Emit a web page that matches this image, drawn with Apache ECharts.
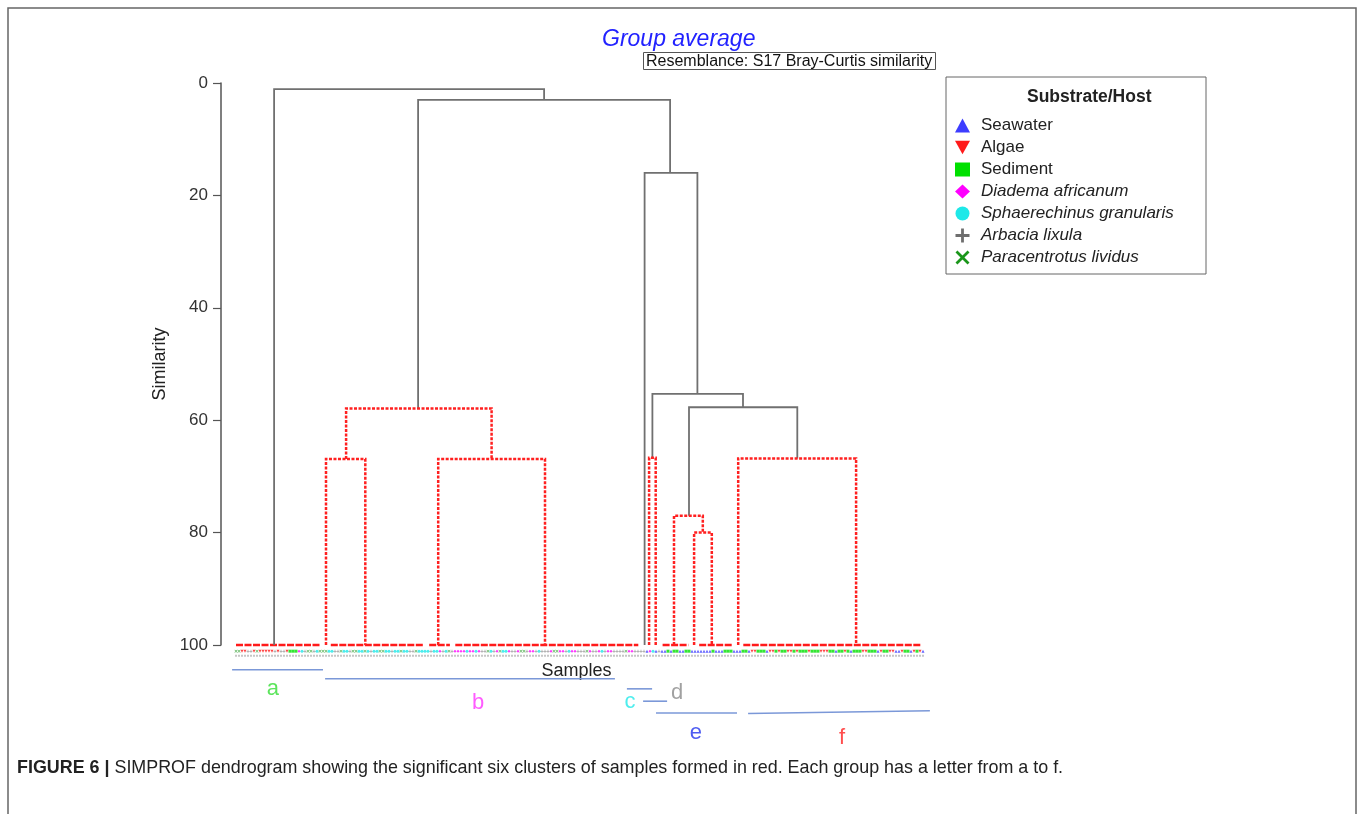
<!DOCTYPE html>
<html>
<head>
<meta charset="utf-8">
<script src="https://cdn.jsdelivr.net/npm/echarts@6/dist/echarts.min.js"></script>
<style>
  html, body { margin: 0; padding: 0; background: #fff; }
  #main { width: 1360px; height: 814px; }
</style>
</head>
<body>
<div id="main"></div>
<script>
var chart = echarts.init(document.getElementById('main'));

// y ticks (similarity %)
var yTicks = [0, 20, 40, 60, 80, 100];

// dendrogram links: [xLeft, xRight, mergeSimilarity, leftChildSim, rightChildSim]
// x in sample positions (0 = first sample)
var greyLinks = [
  [12.7, 102.7, 1.1, 100, 3.0],
  [60.7, 144.7, 3.0, 57.9, 16.0],
  [136.2, 153.8, 16.0, 100, 55.3],
  [138.8, 169.0, 55.3, 66.7, 57.7],
  [151.0, 187.1, 57.7, 77.0, 66.8]
];
var redLinks = [
  [30.0, 43.1, 66.9, 100, 100],
  [67.4, 103.0, 66.9, 100, 100],
  [36.7, 85.2, 57.9, 66.9, 66.9],
  [137.7, 139.9, 66.7, 100, 100],
  [146.0, 155.6, 77.0, 100, 80.0],
  [152.7, 158.6, 80.0, 100, 100],
  [167.4, 206.7, 66.8, 100, 100]
];
// samples joined at 100% similarity: [fromSample, toSample]
var baseSegments = [
  [0, 28], [31.6, 62.4], [64.4, 71.3], [73.1, 134.1],
  [142.2, 150.8], [154.4, 165.7], [169.1, 228.6]
];

// sample order codes: S seawater, A algae, D sediment, M diadema, C sphaerechinus, P arbacia, X paracentrotus
var sampleTypes =
  'XXAAPPAXAAAAAPAPPADDDMCPXXPCX' +
  'XXCCPPXCCPXXCCXCPCCXXCCPCCXCCPPXCC' +
  'CCPCCMPCXP' +
  'MMMMCMMCMPPXCPMXCCMPPMXXPMMPCPPPMXXMMPCMMPPPXMPPMCPMMPPPPXMMPPP' +
  'PSMCSP' +
  'SSDSDDSSDDSSSSSSSDSSSDDDSSSDDS' +
  'AADDDSAADADDAADADDDADDDAAADDSDDADSDDDAADDDSADDAASSADDSADAS';

var groupCodes = ['S', 'A', 'D', 'M', 'C', 'P', 'X'];
var groupNames = ['Seawater', 'Algae', 'Sediment', 'Diadema africanum',
  'Sphaerechinus granularis', 'Arbacia lixula', 'Paracentrotus lividus'];
var groupColors = ['#3d3dff', '#ff1a1a', '#00e000', '#ff00ff', '#1ee8e8', '#6e6e6e', '#1a961a'];
var groupSymbols = ['triangle', 'path://M0,0H10L5,9Z', 'rect', 'diamond', 'circle',
  'path://M4,0H6V4H10V6H6V10H4V6H0V4H4Z',
  'path://M1.4,0L5,3.6L8.6,0L10,1.4L6.4,5L10,8.6L8.6,10L5,6.4L1.4,10L0,8.6L3.6,5L0,1.4Z'];
var italicNames = ['Diadema africanum', 'Sphaerechinus granularis', 'Arbacia lixula', 'Paracentrotus lividus'];

// cluster brackets under the samples: [x1, x2, y1, y2]
var clusterLetters = ['a', 'b', 'c', 'd', 'e', 'f'];
var clusterLines = [
  [-1.3, 29.0, 104.4, 104.4],
  [29.7, 126.3, 106.0, 106.0],
  [130.3, 138.7, 107.8, 107.8],
  [135.7, 143.7, 110.0, 110.0],
  [140.0, 167.0, 112.1, 112.1],
  [170.7, 231.3, 112.2, 111.7]
];
var clusterLabelPos = [[12.3, 107.9], [80.7, 110.3], [131.3, 110.2], [147.0, 108.5], [153.3, 115.6], [202.0, 116.6]];
var clusterColors = ['#33dd33', '#ff33ff', '#22e8e8', '#8a8a8a', '#2233ee', '#ff2222'];

var MARK_ROW = 101.1;
var LABEL_ROW = 101.9;
var FONT = 'Liberation Sans, Arial, sans-serif';

function linkRenderer(color, dash, width) {
  return function (params, api) {
    var xl = api.value(0), xr = api.value(1), h = api.value(2), hl = api.value(3), hr = api.value(4);
    var pts = [api.coord([xl, hl]), api.coord([xl, h]), api.coord([xr, h]), api.coord([xr, hr])];
    return {
      type: 'polyline',
      shape: { points: pts },
      style: { stroke: color, lineWidth: width, fill: null, lineDash: dash }
    };
  };
}

var series = [];

series.push({
  type: 'custom', name: 'base', silent: true, clip: false,
  dimensions: ['x1', 'x2'], encode: { x: [0, 1] },
  renderItem: function (params, api) {
    var a = api.coord([api.value(0), 100]), b = api.coord([api.value(1), 100]);
    return { type: 'line', shape: { x1: a[0], y1: a[1], x2: b[0], y2: b[1] },
      style: { stroke: '#ff1a1a', lineWidth: 2.5, lineDash: [7, 1.5] } };
  },
  data: baseSegments
});
series.push({
  type: 'custom', name: 'grey', silent: true, clip: false,
  dimensions: ['xl', 'xr', 'h', 'hl', 'hr'], encode: { x: [0, 1], y: [2, 3, 4] },
  renderItem: linkRenderer('#707070', null, 1.8),
  data: greyLinks
});
series.push({
  type: 'custom', name: 'red', silent: true, clip: false,
  dimensions: ['xl', 'xr', 'h', 'hl', 'hr'], encode: { x: [0, 1], y: [2, 3, 4] },
  renderItem: linkRenderer('#ff2020', [3, 1.5], 2.5),
  data: redLinks
});

// grey sample label row
var labelRow = [];
for (var i = 0; i < sampleTypes.length; i++) labelRow.push([i, LABEL_ROW]);
series.push({
  type: 'scatter', name: 'labels', silent: true, clip: false,
  symbol: 'rect', symbolSize: [2, 2],
  itemStyle: { color: '#b8b8b8' },
  data: labelRow
});

groupCodes.forEach(function (code, g) {
  var pts = [];
  for (var i = 0; i < sampleTypes.length; i++) {
    if (sampleTypes.charAt(i) === code) pts.push([i, MARK_ROW]);
  }
  series.push({
    type: 'scatter', name: groupNames[g], clip: false, silent: true,
    symbol: groupSymbols[g], symbolSize: 3,
    itemStyle: { color: groupColors[g], opacity: 0.8 },
    data: pts
  });
});

series.push({
  type: 'custom', name: 'clusters', silent: true, clip: false,
  renderItem: function (params, api) {
    var a = api.coord([api.value(0), api.value(2)]), b = api.coord([api.value(1), api.value(3)]);
    return { type: 'line', shape: { x1: a[0], y1: a[1], x2: b[0], y2: b[1] },
      style: { stroke: '#7b98d8', lineWidth: 1.6 } };
  },
  data: clusterLines
});
series.push({
  type: 'scatter', name: 'letters', silent: true, clip: false,
  symbolSize: 0,
  label: {
    show: true, position: 'inside', fontSize: 22, fontFamily: FONT,
    formatter: function (p) { return clusterLetters[p.dataIndex]; }
  },
  data: clusterLabelPos.map(function (p, k) {
    return { value: p, label: { color: clusterColors[k] } };
  })
});

var option = {
  animation: false,
  textStyle: { fontFamily: FONT },
  title: [
    { text: 'Group average', left: 597, top: 23,
      textStyle: { fontSize: 23, fontStyle: 'italic', fontWeight: 'normal', color: '#2222ff' } },
    { text: 'Resemblance: S17 Bray-Curtis similarity', left: 643, top: 52,
      padding: [1, 3, 0, 3], borderColor: '#555', borderWidth: 1,
      textStyle: { fontSize: 16, fontWeight: 'normal', color: '#111', lineHeight: 17 } }
  ],
  legend: {
    orient: 'vertical', left: 950, top: 112, itemWidth: 15, itemHeight: 14, itemGap: 5,
    selectedMode: false,
    data: groupNames.map(function (n, g) { return { name: n, icon: groupSymbols[g], itemStyle: { color: groupColors[g], opacity: 1 } }; }),
    formatter: function (name) {
      return italicNames.indexOf(name) >= 0 ? '{it|' + name + '}' : '{n|' + name + '}';
    },
    textStyle: {
      color: '#222', fontSize: 17, padding: [0, 0, 0, 6],
      rich: {
        it: { fontStyle: 'italic', fontSize: 17, color: '#222' },
        n: { fontSize: 17, color: '#222' }
      }
    }
  },
  grid: { left: 221, right: 428, top: 83, bottom: 169 },
  xAxis: {
    type: 'value', min: -5, max: 232,
    name: 'Samples', nameLocation: 'middle', nameGap: 17,
    nameTextStyle: { fontSize: 18, color: '#222' },
    axisLine: { show: false }, axisTick: { show: false }, axisLabel: { show: false },
    splitLine: { show: false }
  },
  yAxis: {
    type: 'value', inverse: true, min: yTicks[0], max: yTicks[yTicks.length - 1], interval: 20,
    name: 'Similarity', nameLocation: 'middle', nameGap: 50, nameRotate: 90,
    nameTextStyle: { fontSize: 18, color: '#222' },
    axisLine: { show: true, onZero: false, lineStyle: { color: '#555', width: 1.5 } },
    axisTick: { show: true, length: 8, lineStyle: { color: '#555', width: 1.2 } },
    axisLabel: { fontSize: 17, color: '#333', margin: 13 },
    splitLine: { show: false }
  },
  graphic: [
    { type: 'rect', shape: { x: 8, y: 8, width: 1348, height: 830 },
      style: { fill: null, stroke: '#666', lineWidth: 1.5 }, silent: true },
    { type: 'rect', shape: { x: 946, y: 77, width: 260, height: 197 },
      style: { fill: null, stroke: '#666', lineWidth: 1 }, silent: true },
    { type: 'text', x: 1027, y: 88,
      style: { text: 'Substrate/Host', fontSize: 17.5, fontWeight: 'bold', fill: '#222', fontFamily: FONT } },
    { type: 'text', x: 17, y: 759,
      style: {
        text: '{b|FIGURE 6 |} SIMPROF dendrogram showing the significant six clusters of samples formed in red. Each group has a letter from a to f.',
        fontSize: 17.9, fill: '#222', fontFamily: FONT,
        rich: { b: { fontWeight: 'bold', fontSize: 17.9, fill: '#222', fontFamily: FONT } }
      } }
  ],
  series: series
};

chart.setOption(option);
</script>
</body>
</html>
